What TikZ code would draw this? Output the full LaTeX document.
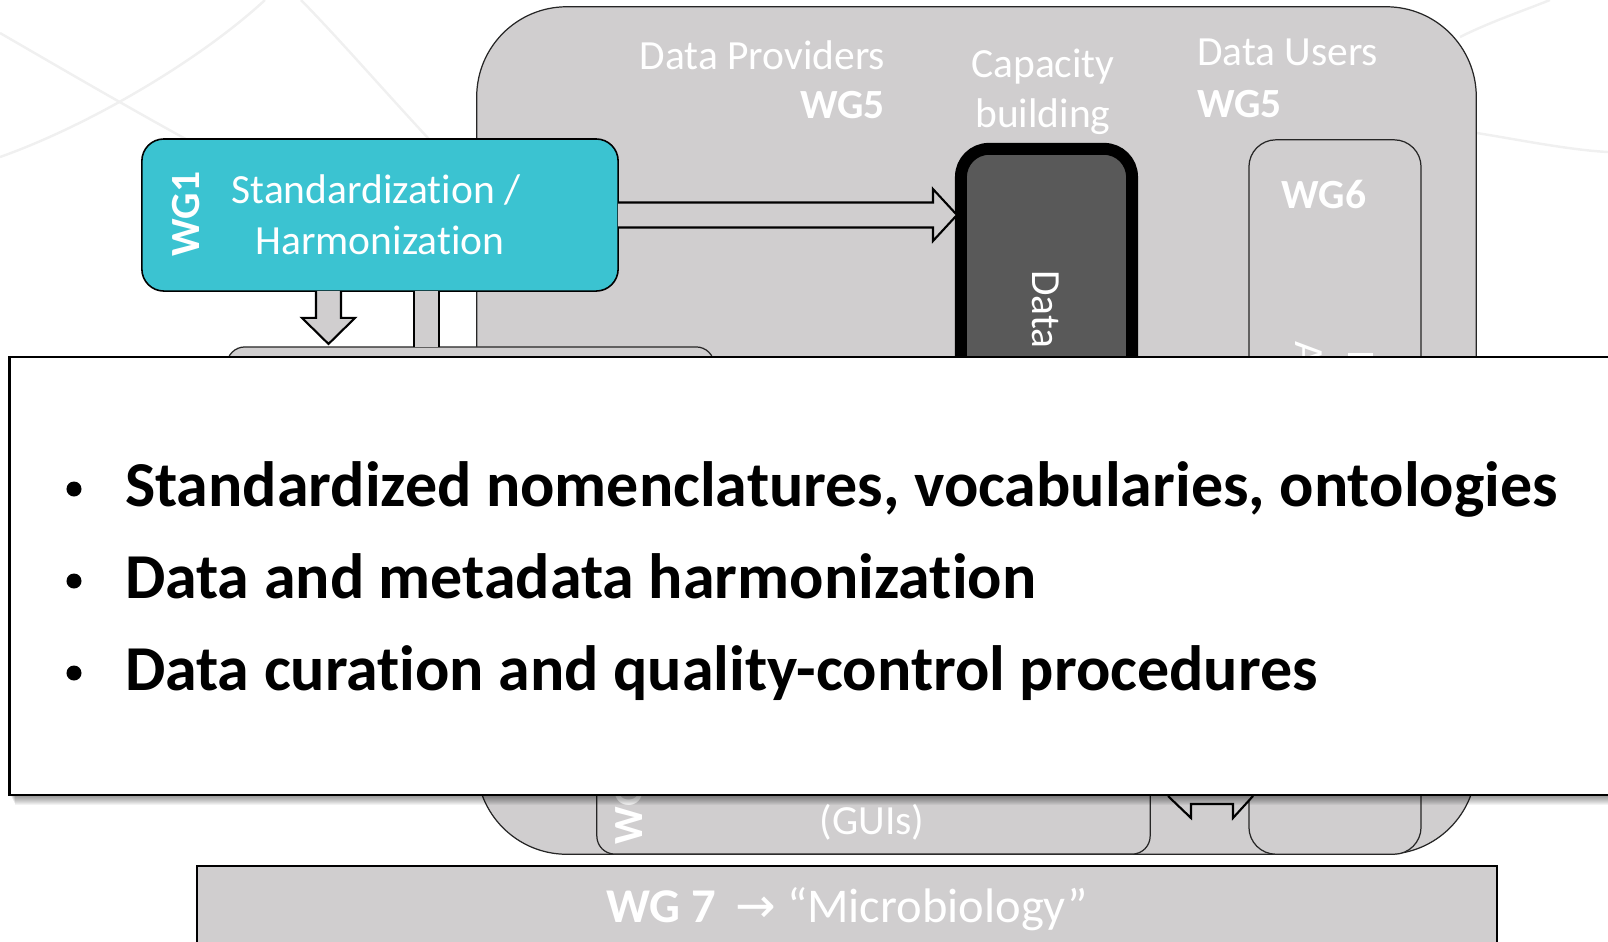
\documentclass[tikz,border=0pt]{standalone}
\usepackage{fontspec}
\setmainfont{Carlito}[Ligatures=NoCommon]
\newfontfamily\arrowfont{DejaVu Sans}
\usetikzlibrary{calc}

\definecolor{panelgray}{RGB}{208,206,207}
\definecolor{wgcyan}{RGB}{59,195,209}
\definecolor{hubgray}{RGB}{89,89,89}

\tikzset{
  panel/.style = {draw=black!85, line width=0.35pt, fill=panelgray, inner sep=0, outer sep=0},
  wgtext/.style = {text=white, inner sep=0, outer sep=0, font=\fontsize{11.8}{14.5}\selectfont},
  wgbold/.style = {wgtext, font=\fontsize{11.8}{14.5}\selectfont\bfseries},
  blockarrow/.style = {draw=black, line width=0.6pt, fill=panelgray, line join=miter},
  bgline/.style = {draw=black!6, line width=0.7pt},
  bullettext/.style = {inner sep=0, outer sep=0, anchor=base west, font=\fontsize{18.2}{22}\selectfont\bfseries}
}

\begin{document}
\begin{tikzpicture}[x=0.01cm, y=-0.01cm]
\useasboundingbox (0,0) rectangle (1608,941);

% faint background
\draw[bgline] (265,0) .. controls (200,60) and (90,125) .. (0,157);
\draw[bgline] (0,33) .. controls (90,85) and (200,150) .. (330,215);
\draw[bgline] (301,0) .. controls (350,50) and (400,110) .. (477,190);
\draw[bgline] (1460,37) .. controls (1490,22) and (1520,12) .. (1550,0);
\draw[bgline] (1477,133) .. controls (1520,140) and (1570,150) .. (1608,152);

% boxes
\node[panel, rounded corners=0.9cm, minimum width=9.99cm, minimum height=8.47cm] (frame) at (976.5,430.5) {};
\node[panel, rounded corners=0.27cm, minimum width=1.72cm, minimum height=7.14cm] (wgsix) at (1335,497) {};
\node[panel, rounded corners=0.18cm, minimum width=5.53cm, minimum height=2.94cm] (guis) at (873.5,707) {};
\node[panel, rounded corners=0.18cm, minimum width=4.87cm, minimum height=2.53cm] (lowbox) at (470.5,473.5) {};
\node[draw=black, line width=3.4pt, fill=hubgray, rounded corners=0.28cm, inner sep=0, outer sep=0,
      minimum width=1.71cm, minimum height=5.51cm] (datahub) at (1046.5,424.5) {};
\node[draw=black, line width=0.45pt, fill=wgcyan, rounded corners=0.22cm, inner sep=0, outer sep=0,
      minimum width=4.76cm, minimum height=1.52cm] (wgone) at (380,215) {};

% arrows
\coordinate (rtail) at (wgone.east);
\coordinate (rtip) at ($(wgone.east -| datahub.west)+(-4,0)$);
\draw[blockarrow] ($(rtail)+(0,-12.5)$) -- ($(rtip)+(-24,-12.5)$) -- ($(rtip)+(-24,-26)$) -- (rtip)
  -- ($(rtip)+(-24,26)$) -- ($(rtip)+(-24,12.5)$) -- ($(rtail)+(0,12.5)$);
\coordinate (dtail) at ($(wgone.south)+(-51.5,0)$);
\coordinate (dtip) at ($(dtail |- lowbox.north)+(0,-3)$);
\draw[blockarrow] ($(dtail)+(-12.5,0)$) -- ($(dtip)+(-12.5,-26)$) -- ($(dtip)+(-26.5,-26)$) -- (dtip)
  -- ($(dtip)+(26.5,-26)$) -- ($(dtip)+(12.5,-26)$) -- ($(dtail)+(12.5,0)$);
\coordinate (utail) at ($(wgone.south)+(46.5,0)$);
\coordinate (uhead) at (utail |- lowbox.north);
\fill[panelgray] ($(utail)+(-12.5,0)$) rectangle ($(uhead)+(12.5,0)$);
\draw[line width=0.6pt] ($(utail)+(-12.5,0)$) -- ($(uhead)+(-12.5,0)$);
\draw[line width=0.6pt] ($(utail)+(12.5,0)$) -- ($(uhead)+(12.5,0)$);
\fill[panelgray] (1168,796) -- (1191,818) -- (1191,804) -- (1233,804) -- (1233,818) -- (1253,796)
  -- (1253,780) -- (1168,780) -- cycle;
\draw[line width=0.6pt, line join=miter] (1168,796) -- (1191,818) -- (1191,804) -- (1233,804)
  -- (1233,818) -- (1253,796);

% labels
\node[wgbold, rotate=90] (wgonename) at (186,214) {WG1};
\node[wgtext, anchor=base] (wgonea) at (376,203) {Standardization /};
\node[wgtext, anchor=base] (wgoneb) at (380,254) {Harmonization};
\node[wgtext, anchor=base east] (provname) at (885,69) {Data Providers};
\node[wgbold, anchor=base east] (provwg) at (885,118) {WG5};
\node[wgtext, anchor=base] (capa) at (1043,77) {Capacity};
\node[wgtext, anchor=base] (capb) at (1043,127) {building};
\node[wgtext, anchor=base west] (username) at (1197,65) {Data Users};
\node[wgbold, anchor=base west] (userwg) at (1197,117) {WG5};
\node[wgbold, anchor=base] (wgsixname) at (1324,208) {WG6};
\node[wgtext, anchor=base west, rotate=-90] (hubname) at (1032,270) {Data};
\node[wgtext, anchor=base west, rotate=-90] (sixfrag) at (1295,341) {A};
\fill[white] (1348,353) rectangle (1373,362);
\node[wgtext, anchor=base] (guisname) at (872,834) {(GUIs)};
\node[wgbold, anchor=base west, rotate=90] (guiswg) at (642,844) {WG};

% WG 7 bar
\node[draw=black, line width=0.6pt, fill=panelgray, inner sep=0, outer sep=0,
      minimum width=13cm, minimum height=1.24cm] (wgseven) at (847,928) {};
\node[text=white, inner sep=0, anchor=base, font=\fontsize{13.8}{16}\selectfont] (wgseventext) at (847,922)
  {\textbf{WG 7}\hspace{0.4em}{\arrowfont →} “Microbiology”};

% popup with shadow
\foreach \s in {1,...,10}
  \fill[black, opacity=0.05] ($(10,795)+(0.5*\s,\s)$) rectangle ($(1640,357)+(0,\s)$);
\node[draw=black, line width=0.6pt, fill=white, inner sep=0, outer sep=0,
      minimum width=16.3cm, minimum height=4.38cm] (popup) at (825,576) {};
\foreach \base/\line [count=\i] in {506/{Standardized nomenclatures, vocabularies, ontologies},
    598/{Data and metadata harmonization}, 690/{Data curation and quality-control procedures}} {
  \fill (74,\base-17) circle (0.075cm);
  \node[bullettext] (item\i) at (125,\base) {\line};
}
\end{tikzpicture}
\end{document}
